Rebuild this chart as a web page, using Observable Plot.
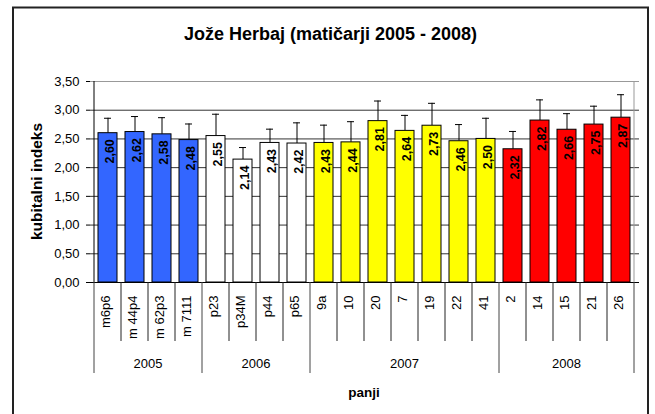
<!DOCTYPE html>
<html>
<head>
<meta charset="utf-8">
<script src="https://cdn.jsdelivr.net/npm/d3@7"></script>
<script src="https://cdn.jsdelivr.net/npm/@observablehq/plot@0.6"></script>
<style>
  html, body { margin: 0; padding: 0; background: white; }
  svg { display: block; }
</style>
</head>
<body>
<div id="chart"></div>
<script>
const categories = ["m6p6","m 44p4","m 62p3","m 7111","p23","p34M","p44","p65","9a","10","20","7","19","22","41","2","14","15","21","26"];
const years      = ["2005","2005","2005","2005","2006","2006","2006","2006","2007","2007","2007","2007","2007","2007","2007","2008","2008","2008","2008","2008"];
const values     = [2.60,2.62,2.58,2.48,2.55,2.14,2.43,2.42,2.43,2.44,2.81,2.64,2.73,2.46,2.50,2.32,2.82,2.66,2.75,2.87];
const errors     = [0.26,0.27,0.29,0.28,0.38,0.21,0.24,0.36,0.31,0.36,0.35,0.27,0.39,0.29,0.36,0.31,0.36,0.28,0.32,0.40];
const yearNames  = ["2005","2006","2007","2008"];
const yearColors = ["#3366FF","#FFFFFF","#FFFF00","#FF0000"];
const yTicks     = [0,0.5,1,1.5,2,2.5,3,3.5];
const title      = "Jože Herbaj (matičarji 2005 - 2008)";
const yTitle     = "kubitalni indeks";
const xTitle     = "panji";

const fmt = d => d3.format(".2f")(d).replace(".", ",");
const colorOf = y => yearColors[yearNames.indexOf(y)];
const data = categories.map((c, i) => ({cat: c, year: years[i], value: values[i], err: errors[i]}));

const W = 655, H = 414;
const chart = Plot.plot({
  width: W, height: H,
  marginLeft: 90, marginRight: 16, marginTop: 81, marginBottom: 132,
  style: {fontFamily: "Arial, 'Liberation Sans', sans-serif", fontSize: "13px", background: "white", color: "black"},
  x: {domain: categories, paddingInner: 0.28, paddingOuter: 0.14, axis: null},
  y: {domain: [0, 3.5], ticks: yTicks, tickFormat: fmt, tickSize: 4, tickPadding: 7, label: null},
  marks: [
    Plot.ruleY(yTicks.filter(d => d > 0 && d < 3.5), {stroke: "#333"}),
    Plot.ruleY([3.5], {stroke: "#999"}),
    Plot.ruleX(data, {x: "cat", y1: "value", y2: d => d.value + d.err, stroke: "black"}),
    Plot.tickY(data, {x: "cat", y: d => d.value + d.err, stroke: "black", insetLeft: 6, insetRight: 6}),
    Plot.barY(data, {x: "cat", y: "value", fill: d => colorOf(d.year), stroke: "black", strokeWidth: 1}),
    Plot.text(data, {x: "cat", y: "value", text: d => fmt(d.value), rotate: -90, textAnchor: "end", dy: 6, dx: 2, fontWeight: "bold", fontSize: 12.5, fill: "black"}),
    Plot.ruleY([0], {stroke: "black"}),
    Plot.text(categories, {x: d => d, frameAnchor: "bottom", text: d => d, rotate: -90, textAnchor: "end", dy: 13, dx: 2, fontSize: 13, fill: "black"})
  ]
});
document.getElementById("chart").appendChild(chart);

// Additional chart furniture derived from Plot's scales
const svg = d3.select(chart.tagName.toLowerCase() === "svg" ? chart : chart.querySelector("svg"));
const xs = chart.scale("x"), ys = chart.scale("y");
const gap = (xs.step - xs.bandwidth) / 2;
const bounds = categories.map(c => xs.apply(c) - gap);
bounds.push(xs.apply(categories[categories.length - 1]) + xs.bandwidth + gap);
const y0 = ys.apply(0), yTop = ys.apply(3.5);
const xL = bounds[0], xR = bounds[bounds.length - 1];

const g = svg.append("g");
// outer frame
g.append("rect").attr("x", 13).attr("y", 7.5).attr("width", 635).attr("height", 500)
  .attr("fill", "none").attr("stroke", "#222").attr("stroke-width", 2);
// left axis line and right plot border
g.append("line").attr("x1", xL).attr("x2", xL).attr("y1", yTop).attr("y2", y0).attr("stroke", "black");
g.append("line").attr("x1", xR).attr("x2", xR).attr("y1", yTop).attr("y2", y0).attr("stroke", "#999");
// category / group separators
bounds.forEach((b, i) => {
  const isGroup = i === 0 || i === categories.length || years[i] !== years[i - 1];
  g.append("line").attr("x1", b).attr("x2", b).attr("y1", y0).attr("y2", y0 + (isGroup ? 91 : 59))
    .attr("stroke", isGroup ? "#444" : "#222");
});
// group labels
yearNames.forEach(yn => {
  const idx = years.map((y, i) => y === yn ? i : -1).filter(i => i >= 0);
  const a = bounds[idx[0]], b = bounds[idx[idx.length - 1] + 1];
  g.append("text").attr("x", (a + b) / 2).attr("y", y0 + 86).attr("text-anchor", "middle")
    .attr("font-size", 13).attr("fill", "black").text(yn);
});
// axis titles
g.append("text").attr("x", (xL + xR) / 2).attr("y", y0 + 115).attr("text-anchor", "middle")
  .attr("font-size", 13.5).attr("font-weight", "bold").attr("fill", "black").text(xTitle);
g.append("text").attr("transform", `translate(37,${(y0 + yTop) / 2}) rotate(-90)`).attr("dy", "0.35em")
  .attr("text-anchor", "middle").attr("font-size", 15.5).attr("font-weight", "bold").attr("fill", "black").text(yTitle);
// title
g.append("text").attr("x", 330.5).attr("y", 40).attr("text-anchor", "middle")
  .attr("font-size", 18).attr("font-weight", "bold").attr("fill", "black").text(title);
</script>
</body>
</html>
